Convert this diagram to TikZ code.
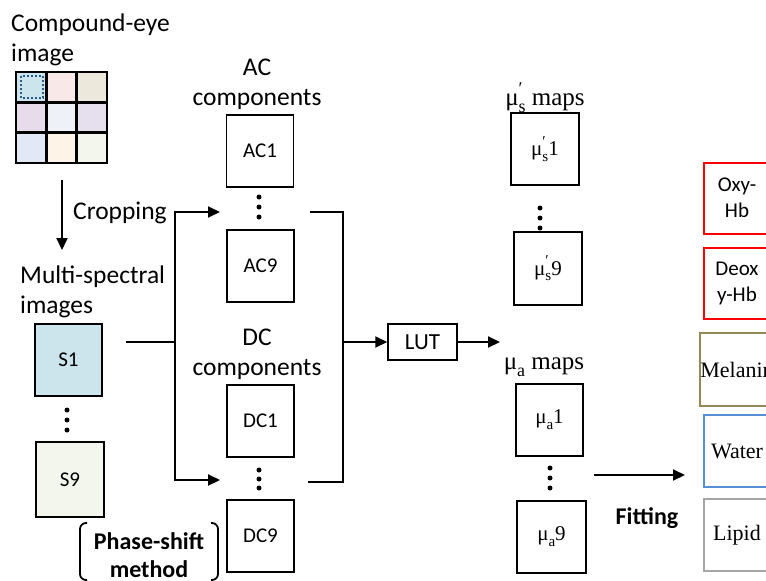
\documentclass[tikz,border=0pt]{standalone}
\usepackage{fontspec}
\setmainfont{Carlito}
\newfontfamily\seriffont{Liberation Serif}
\usetikzlibrary{arrows.meta}
\newcommand\lowsub[1]{\raisebox{-0.6ex}{\scalebox{0.72}{#1}}}
\newcommand\musp{μ\rlap{\raisebox{0.95ex}{\scalebox{0.72}{′}}}\lowsub{s}}
\newcommand\mua{μ\lowsub{a}}
\definecolor{cA}{HTML}{CCE4EC}
\definecolor{cB}{HTML}{F8E8E8}
\definecolor{cC}{HTML}{ECE8DC}
\definecolor{cD}{HTML}{E6DCEA}
\definecolor{cE}{HTML}{EEF2F8}
\definecolor{cF}{HTML}{E6E0EE}
\definecolor{cG}{HTML}{E2E8F6}
\definecolor{cH}{HTML}{FDF3E6}
\definecolor{cI}{HTML}{F2F6EC}
\definecolor{dotblue}{HTML}{2E5B8A}
\definecolor{olivec}{HTML}{948A54}
\definecolor{waterc}{HTML}{558ED5}
\definecolor{lipidc}{HTML}{A6A6A6}
\begin{document}
\begin{tikzpicture}[x=1pt,y=-1pt,
  head/.style={inner sep=0pt,font=\fontsize{25.5}{30}\selectfont},
  shead/.style={inner sep=0pt,font=\seriffont\fontsize{25}{30}\selectfont},
  box/.style={draw,line width=1.5pt,minimum width=67pt,minimum height=72pt,inner sep=0pt,font=\fontsize{21}{24}\selectfont},
  mbox/.style={box,font=\seriffont\fontsize{21}{24}\selectfont},
  rbox/.style={draw,line width=2pt,minimum width=66pt,minimum height=71pt,inner sep=0pt,align=center,font=\fontsize{21}{26}\selectfont},
  srbox/.style={rbox,font=\seriffont\fontsize{22}{26}\selectfont},
  conn/.style={line width=2pt},
  arr/.style={conn,-{Triangle[length=12pt,width=11pt]}},
  gridline/.style={line width=2.5pt},
  dotc/.style={fill,circle,inner sep=0pt,minimum size=5pt}]
\useasboundingbox (0,0) rectangle (766,581);
\clip (0,0) rectangle (766,581);

% compound-eye image
\node[head,anchor=west,align=left] (ceye) at (11,40) {Compound-eye\\image};
\fill[cA] (16,72) rectangle (46.33,102.33);
\fill[cB] (46.33,72) rectangle (76.67,102.33);
\fill[cC] (76.67,72) rectangle (107,102.33);
\fill[cD] (16,102.33) rectangle (46.33,132.67);
\fill[cE] (46.33,102.33) rectangle (76.67,132.67);
\fill[cF] (76.67,102.33) rectangle (107,132.67);
\fill[cG] (16,132.67) rectangle (46.33,163);
\fill[cH] (46.33,132.67) rectangle (76.67,163);
\fill[cI] (76.67,132.67) rectangle (107,163);
\foreach \i in {1,2} {
  \draw[gridline] (16+30.333*\i,72) -- (16+30.333*\i,163);
  \draw[gridline] (16,72+30.333*\i) -- (107,72+30.333*\i);
}
\draw[gridline] (16,72) rectangle (107,163);
\draw[dotblue,line width=2pt,dash pattern=on 2pt off 2pt] (21,76) rectangle (43,98);

\coordinate (cropA) at (62,180);
\coordinate (cropB) at (62,250);
\draw[arr] (cropA) -- (cropB);
\node[head,anchor=west] (crop) at (73,213) {Cropping};

% multi-spectral
\node[head,anchor=west,align=left] (ms) at (20,291.5) {Multi-spectral\\images};
\node[box,fill=cA] (S1) at (68.5,360) {S1};
\node[dotc] (sd1) at (67,410) {};
\node[dotc] (sd2) at (67,420) {};
\node[dotc] (sd3) at (67,430) {};
\node[box,fill=cI,minimum width=68pt,minimum height=75pt] (S9) at (70,479.5) {S9};

\node[align=center,inner sep=0pt,font=\bfseries\fontsize{24}{28}\selectfont] (ps) at (149,555) {Phase-shift\\method};
\draw[conn,line width=1.8pt,rounded corners=6pt] (87,523) -- (80,523) -- (80,580) -- (87,580);
\draw[conn,line width=1.8pt,rounded corners=6pt] (211,523) -- (218,523) -- (218,580) -- (211,580);

% AC / DC
\node[head,align=center] (achead) at (257,84) {AC\\components};
\node[box] (AC1) at (260,151) {AC1};
\node[dotc] (ad1) at (259,197) {};
\node[dotc] (ad2) at (259,207) {};
\node[dotc] (ad3) at (259,217) {};
\node[box] (AC9) at (260.5,266) {AC9};

\node[head,align=center] (dchead) at (257,354) {DC\\components};
\node[box] (DC1) at (260.5,421) {DC1};
\node[dotc] (dd1) at (259,470) {};
\node[dotc] (dd2) at (259,479) {};
\node[dotc] (dd3) at (259,488) {};
\node[box] (DC9) at (260.5,536) {DC9};

\coordinate (s1out) at (126,342);
\coordinate (jL) at (175,342);
\coordinate (acin) at (220,212);
\coordinate (dcin) at (220,480);
\draw[conn] (s1out) -- (jL);
\draw[arr] (jL) |- (acin);
\draw[arr] (jL) |- (dcin);

\coordinate (acout) at (310,212);
\coordinate (dcout) at (308,482);
\coordinate (jR) at (343,342);
\draw[conn] (acout) -| (jR);
\draw[conn] (dcout) -| (jR);

\node[draw,line width=1.5pt,minimum width=69pt,minimum height=36pt,inner sep=0pt,font=\fontsize{23}{26}\selectfont] (LUT) at (422.5,342) {LUT};
\coordinate (lutout) at (500,342);
\draw[arr] (jR) -- (LUT.west);
\draw[arr] (LUT.east) -- (lutout);

% mu maps
\node[shead] (mushead) at (545,98) {\musp\ maps};
\node[mbox,minimum width=68pt] (mus1) at (545,149) {\musp1};
\node[dotc] (md1) at (540,208) {};
\node[dotc] (md2) at (540,218) {};
\node[dotc] (md3) at (540,228) {};
\node[mbox,minimum width=68pt,minimum height=73pt] (mus9) at (548,268.5) {\musp9};

\node[shead] (muahead) at (544,367) {\mua\ maps};
\node[mbox] (mua1) at (549.5,420) {\mua1};
\node[dotc] (ma1) at (550,468) {};
\node[dotc] (ma2) at (550,478) {};
\node[dotc] (ma3) at (550,488) {};
\node[mbox,minimum width=69pt] (mua9) at (551.5,537) {\mua9};

\coordinate (fitA) at (594,475);
\coordinate (fitB) at (685,475);
\draw[arr] (fitA) -- (fitB);
\node[inner sep=0pt,font=\bfseries\fontsize{24}{28}\selectfont] (fit) at (647,518) {Fitting};

% chromophores
\node[rbox,draw=red] (oxy) at (737,198) {Oxy-\\Hb};
\node[rbox,draw=red] (deoxy) at (737,283) {Deox\\y-Hb};
\node[srbox,draw=olivec,minimum height=73pt] (mel) at (737,369.5) {Melanin};
\node[srbox,draw=waterc,minimum height=72pt] (water) at (737,451) {Water};
\node[srbox,draw=lipidc,minimum height=72pt] (lipid) at (737,535) {Lipid};
\end{tikzpicture}
\end{document}
